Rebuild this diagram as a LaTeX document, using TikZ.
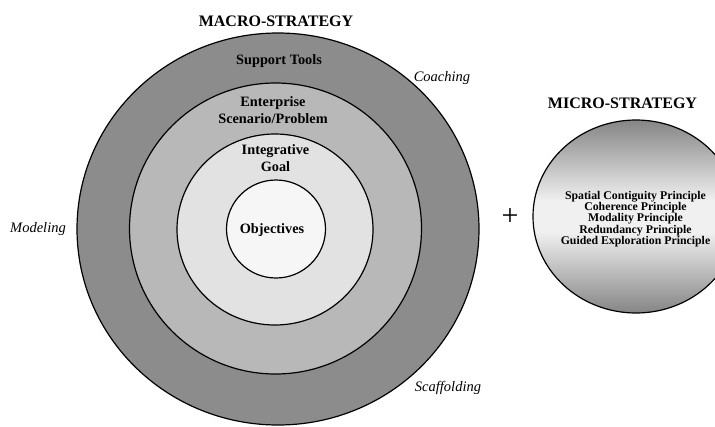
\documentclass[tikz,border=0pt]{standalone}
\usepackage{fontspec}
\setmainfont{Liberation Serif}
\usetikzlibrary{shapes.geometric}
\definecolor{toolsgray}{HTML}{8C8C8C}
\definecolor{scenariogray}{HTML}{B8B8B8}
\definecolor{goalgray}{HTML}{E2E2E2}
\definecolor{objgray}{HTML}{F6F6F6}
\definecolor{microgray}{HTML}{858585}
\definecolor{microlight}{HTML}{F0F0F0}
\pgfdeclareverticalshading{microshade}{100bp}{color(0bp)=(microgray); color(25bp)=(microgray); color(46bp)=(microlight); color(54bp)=(microlight); color(75bp)=(microgray); color(100bp)=(microgray)}
\tikzset{
  ring/.style={ellipse,draw,line width=1.2pt,inner sep=0pt},
  ringtext/.style={font=\fontsize{14.3}{16.7}\selectfont\bfseries,align=center},
  method/.style={font=\fontsize{14.5}{17}\selectfont\itshape,anchor=base},
  heading/.style={font=\fontsize{16}{19}\selectfont\bfseries,anchor=base}
}

\begin{document}
\begin{tikzpicture}[x=1pt,y=-1pt]
\useasboundingbox (0,0) rectangle (715,426);
% macro-strategy
\node[ring,fill=toolsgray,minimum width=402pt,minimum height=392pt] (tools) at (278,229) {};
\node[ring,fill=scenariogray,minimum width=292pt,minimum height=291pt] (scenario) at (275.5,228.5) {};
\node[ring,fill=goalgray,minimum width=196pt,minimum height=191pt] (goal) at (275,229.5) {};
\node[ring,fill=objgray,minimum width=99pt,minimum height=98pt] (obj) at (276,229) {};
\node[heading] (macro) at (276,26.5) {MACRO-STRATEGY};
\node[ringtext,anchor=base] (toolslabel) at (279,64) {Support Tools};
\node[ringtext] (scenariolabel) at (273,110) {Enterprise\\Scenario/Problem};
\node[ringtext] (goallabel) at (275.5,158) {Integrative\\Goal};
\node[ringtext,anchor=base] (objlabel) at (272,233) {Objectives};
\node[method] (coaching) at (442,81) {Coaching};
\node[method] (modeling) at (38,232) {Modeling};
\node[method] (scaffolding) at (448,391) {Scaffolding};
\node[font=\fontsize{30}{30}\selectfont] (plus) at (510,217) {+};
% micro-strategy
\node[heading] (micro) at (622.5,108) {MICRO-STRATEGY};
\node[ring,minimum width=206pt,minimum height=193pt,shading=microshade] (principles) at (636,216.5) {};
\node[font=\fontsize{11.8}{11.4}\selectfont\bfseries,align=center] (principlelist) at (635.5,219) {Spatial Contiguity Principle\\Coherence Principle\\Modality Principle\\Redundancy Principle\\Guided Exploration Principle};
\end{tikzpicture}
\end{document}
